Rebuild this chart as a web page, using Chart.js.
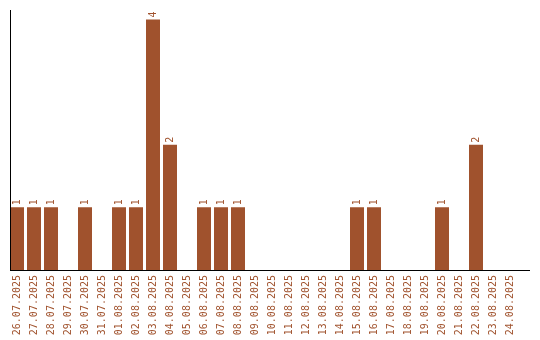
<!DOCTYPE html>
<html><head><meta charset="utf-8">
<script src="https://cdn.jsdelivr.net/npm/chart.js@4.4.0/dist/chart.umd.min.js"></script>
<style>html,body{margin:0;padding:0;background:#fff}#wrap{width:540px;height:340px}</style>
</head><body><div id="wrap"><canvas id="c" width="540" height="340"></canvas></div>
<script>
const categories = ["26.07.2025","27.07.2025","28.07.2025","29.07.2025","30.07.2025","31.07.2025","01.08.2025","02.08.2025","03.08.2025","04.08.2025","05.08.2025","06.08.2025","07.08.2025","08.08.2025","09.08.2025","10.08.2025","11.08.2025","12.08.2025","13.08.2025","14.08.2025","15.08.2025","16.08.2025","17.08.2025","18.08.2025","19.08.2025","20.08.2025","21.08.2025","22.08.2025","23.08.2025","24.08.2025"];
const counts = [1,1,1,0,1,0,1,1,4,2,0,1,1,1,0,0,0,0,0,0,1,1,0,0,0,1,0,2,0,0];

const COLOR = '#A0522D';
const FONT = '"DejaVu Sans Mono", monospace';

const decor = {
  id: 'decor',
  afterDatasetsDraw(chart) {
    const ctx = chart.ctx;
    const meta = chart.getDatasetMeta(0);
    ctx.save();
    ctx.fillStyle = COLOR;
    ctx.font = '10px ' + FONT;
    ctx.textAlign = 'left';
    ctx.textBaseline = 'middle';
    meta.data.forEach((bar, i) => {
      const v = counts[i];
      if (!v) return;
      ctx.save();
      ctx.translate(bar.x, bar.y - 2);
      ctx.rotate(-Math.PI / 2);
      ctx.fillText(String(v), 0, 0);
      ctx.restore();
    });
    const a = chart.chartArea;
    ctx.strokeStyle = '#000';
    ctx.lineWidth = 1;
    ctx.beginPath();
    ctx.moveTo(10.5, a.top);
    ctx.lineTo(10.5, a.bottom);
    ctx.moveTo(10, a.bottom + 0.5);
    ctx.lineTo(530, a.bottom + 0.5);
    ctx.stroke();
    ctx.restore();
  }
};

new Chart(document.getElementById('c'), {
  type: 'bar',
  data: {
    labels: categories,
    datasets: [{
      data: counts,
      backgroundColor: COLOR,
      borderWidth: 0,
      barPercentage: 14/17,
      categoryPercentage: 1
    }]
  },
  options: {
    responsive: false,
    animation: false,
    layout: { padding: { left: 8.5, right: 21.5, top: 10, bottom: 0 } },
    plugins: { legend: { display: false }, tooltip: { enabled: false } },
    scales: {
      x: {
        grid: { display: false, drawTicks: false },
        border: { display: false },
        ticks: {
          color: COLOR,
          font: { family: FONT, size: 10 },
          minRotation: 90, maxRotation: 90,
          autoSkip: false,
          padding: 5
        },
        afterFit(axis) { axis.height = 70; }
      },
      y: {
        min: 0, max: 4.15,
        display: true,
        grid: { display: false, drawTicks: false },
        border: { display: false },
        ticks: { display: false },
        afterFit(axis) { axis.width = 0; }
      }
    }
  },
  plugins: [decor]
});
</script></body></html>
